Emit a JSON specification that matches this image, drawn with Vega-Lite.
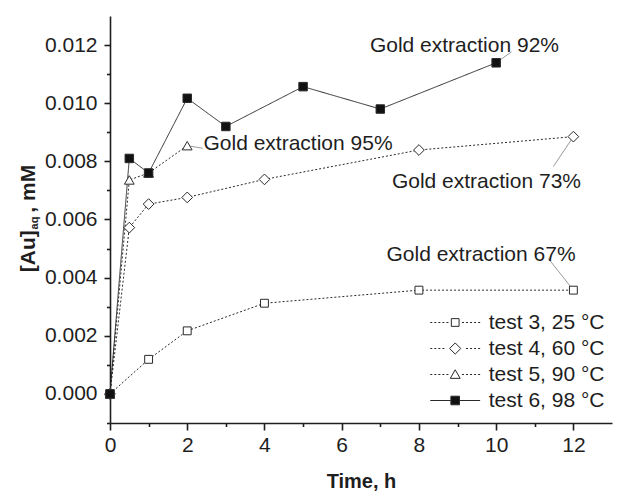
{
  "$schema": "https://vega.github.io/schema/vega-lite/v6.json",
  "width": 502,
  "height": 407,
  "autosize": {"type": "none"},
  "padding": {"left": 110, "top": 16, "right": 5, "bottom": 68},
  "background": "white",
  "config": {
    "view": {"stroke": null},
    "font": "Liberation Sans",
    "axis": {
      "grid": false,
      "domainColor": "#1e1e1e",
      "tickColor": "#1e1e1e",
      "labelColor": "#1e1e1e",
      "titleColor": "#1e1e1e",
      "labelFont": "Liberation Sans",
      "titleFont": "Liberation Sans",
      "labelFlush": false,
      "labelOverlap": false,
      "labelBound": false,
      "domainWidth": 1.6,
      "tickWidth": 1.6
    }
  },
  "datasets": {
    "runs": [
      {"series": "test 3, 25 °C", "time": 0, "au": 0},
      {"series": "test 3, 25 °C", "time": 1, "au": 0.00119},
      {"series": "test 3, 25 °C", "time": 2, "au": 0.00217},
      {"series": "test 3, 25 °C", "time": 4, "au": 0.00312},
      {"series": "test 3, 25 °C", "time": 8, "au": 0.00357},
      {"series": "test 3, 25 °C", "time": 12, "au": 0.00357},
      {"series": "test 4, 60 °C", "time": 0, "au": 0},
      {"series": "test 4, 60 °C", "time": 0.5, "au": 0.00572},
      {"series": "test 4, 60 °C", "time": 1, "au": 0.00653},
      {"series": "test 4, 60 °C", "time": 2, "au": 0.00676},
      {"series": "test 4, 60 °C", "time": 4, "au": 0.00738},
      {"series": "test 4, 60 °C", "time": 8, "au": 0.00839},
      {"series": "test 4, 60 °C", "time": 12, "au": 0.00885},
      {"series": "test 5, 90 °C", "time": 0, "au": 0},
      {"series": "test 5, 90 °C", "time": 0.5, "au": 0.00736},
      {"series": "test 5, 90 °C", "time": 1, "au": 0.0076},
      {"series": "test 5, 90 °C", "time": 2, "au": 0.00854},
      {"series": "test 6, 98 °C", "time": 0, "au": 0},
      {"series": "test 6, 98 °C", "time": 0.5, "au": 0.0081},
      {"series": "test 6, 98 °C", "time": 1, "au": 0.0076},
      {"series": "test 6, 98 °C", "time": 2, "au": 0.01017},
      {"series": "test 6, 98 °C", "time": 3, "au": 0.0092},
      {"series": "test 6, 98 °C", "time": 5, "au": 0.01057},
      {"series": "test 6, 98 °C", "time": 7, "au": 0.0098},
      {"series": "test 6, 98 °C", "time": 10, "au": 0.01139}
    ],
    "notes": [
      {"label": "Gold extraction 92%", "tx": 6.73, "ty": 0.01177, "px": 10, "py": 0.01139, "ex": 10.4, "ey": 0.01177},
      {"label": "Gold extraction 95%", "tx": 2.42, "ty": 0.00839, "px": 2, "py": 0.00854, "ex": 2.4, "ey": 0.00845},
      {"label": "Gold extraction 73%", "tx": 7.3, "ty": 0.00707, "px": 12, "py": 0.00885, "ex": 11.48, "ey": 0.00782},
      {"label": "Gold extraction 67%", "tx": 7.16, "ty": 0.00458, "px": 12, "py": 0.00357, "ex": 11.35, "ey": 0.00466}
    ]
  },
  "resolve": {
    "scale": {"x": "independent", "y": "independent"},
    "axis": {"x": "independent", "y": "independent"}
  },
  "layer": [
    {
      "data": {"name": "notes"},
      "layer": [
        {
          "mark": {"type": "rule", "stroke": "#9a9a9a", "strokeWidth": 1},
          "encoding": {
            "x": {
              "field": "px", "type": "quantitative",
              "scale": {"domain": [0, 13], "nice": false, "zero": false},
              "axis": {"orient": "bottom", "values": [1, 3, 5, 7, 9, 11], "tickSize": 3.5, "labels": false, "domain": false, "title": null}
            },
            "y": {
              "field": "py", "type": "quantitative",
              "scale": {"domain": [-0.001, 0.013], "nice": false, "zero": false},
              "axis": {"orient": "left", "values": [-0.001, 0.001, 0.003, 0.005, 0.007, 0.009, 0.011], "tickSize": 3.5, "labels": false, "domain": false,
                       "title": "aq", "titleFontSize": 11, "titleFontWeight": "bold", "titleAngle": 270, "titleAlign": "center", "titleBaseline": "alphabetic", "titleX": -73, "titleY": 206.5}
            },
            "x2": {"field": "ex"},
            "y2": {"field": "ey"}
          }
        },
        {
          "mark": {"type": "text", "align": "left", "baseline": "alphabetic", "fontSize": 21, "font": "Liberation Sans", "fill": "#1e1e1e"},
          "encoding": {
            "x": {
              "field": "tx", "type": "quantitative",
              "scale": {"domain": [0, 13], "nice": false, "zero": false},
              "axis": {"orient": "bottom", "values": [1, 3, 5, 7, 9, 11], "tickSize": 3.5, "labels": false, "domain": false, "title": null}
            },
            "y": {
              "field": "ty", "type": "quantitative",
              "scale": {"domain": [-0.001, 0.013], "nice": false, "zero": false},
              "axis": {"orient": "left", "values": [-0.001, 0.001, 0.003, 0.005, 0.007, 0.009, 0.011], "tickSize": 3.5, "labels": false, "domain": false,
                       "title": "aq", "titleFontSize": 11, "titleFontWeight": "bold", "titleAngle": 270, "titleAlign": "center", "titleBaseline": "alphabetic", "titleX": -73, "titleY": 206.5}
            },
            "text": {"field": "label"}
          }
        }
      ]
    },
    {
      "data": {"name": "runs"},
      "resolve": {"scale": {"shape": "independent", "fill": "independent"}},
      "encoding": {
        "x": {
          "field": "time", "type": "quantitative",
          "scale": {"domain": [0, 13], "nice": false, "zero": false},
          "axis": {"orient": "bottom", "values": [0, 2, 4, 6, 8, 10, 12], "format": "d", "tickSize": 7, "labelPadding": 4, "labelFontSize": 21,
                   "title": "Time, h", "titleFontSize": 20, "titleFontWeight": "bold", "titleX": 251, "titleY": 64, "titleAlign": "center", "titleBaseline": "alphabetic"}
        },
        "y": {
          "field": "au", "type": "quantitative",
          "scale": {"domain": [-0.001, 0.013], "nice": false, "zero": false},
          "axis": {"orient": "left", "values": [0, 0.002, 0.004, 0.006, 0.008, 0.01, 0.012], "format": ".3f", "tickSize": 6, "labelPadding": 7, "labelFontSize": 21,
                   "title": "[Au]\u00a0\u00a0\u00a0, mM", "titleFontSize": 21, "titleFontWeight": "bold", "titleAngle": 270, "titleAlign": "center", "titleBaseline": "alphabetic", "titleX": -76, "titleY": 202}
        }
      },
      "layer": [
        {
          "mark": {"type": "point", "filled": true, "stroke": "#2a2a2a", "strokeWidth": 1, "opacity": 0},
          "encoding": {
            "shape": {
              "field": "series", "type": "nominal",
              "scale": {
                "domain": ["test 3, 25 °C", "test 4, 60 °C", "test 5, 90 °C", "test 6, 98 °C"],
                "range": [
                  "M-5.8,0H-5.33M-4.86,0H-4.39M-3.92,0H-3.45M-2.98,0H-2.51M-2.04,0H-1.57M1.57,0H2.04M2.51,0H2.98M3.45,0H3.92M4.39,0H4.86M5.33,0H5.8M-0.9,-0.9H0.9V0.9H-0.9Z",
                  "M-5.8,0H-5.33M-4.86,0H-4.39M-3.92,0H-3.45M-2.98,0H-2.51M2.51,0H2.98M3.45,0H3.92M4.39,0H4.86M5.33,0H5.8M-1.3,0L0,-1.3L1.3,0L0,1.3Z",
                  "M-5.8,0H-5.33M-4.86,0H-4.39M-3.92,0H-3.45M-2.98,0H-2.51M-2.04,0H-1.57M1.57,0H2.04M2.51,0H2.98M3.45,0H3.92M4.39,0H4.86M5.33,0H5.8M0,-1.1L1.15,0.9H-1.15Z",
                  "M-5.8,0H-1M1,0H5.8M-1,-1H1V1H-1Z"
                ]
              },
              "legend": {
                "title": null, "orient": "none", "legendX": 334.7, "legendY": 296, "padding": 0,
                "symbolSize": 74, "symbolOpacity": 1, "symbolStrokeWidth": 1,
                "labelFontSize": 21, "labelFont": "Liberation Sans", "labelColor": "#1e1e1e",
                "labelOffset": 23, "rowPadding": 4, "labelBaseline": "middle"
              }
            },
            "fill": {
              "field": "series", "type": "nominal",
              "scale": {"domain": ["test 3, 25 °C", "test 4, 60 °C", "test 5, 90 °C", "test 6, 98 °C"], "range": ["white", "white", "white", "#111111"]}
            }
          }
        },
        {
          "mark": {"type": "line", "stroke": "#2a2a2a", "strokeWidth": 1},
          "encoding": {
            "strokeDash": {
              "field": "series", "type": "nominal",
              "scale": {"domain": ["test 6, 98 °C", "test 5, 90 °C", "test 4, 60 °C", "test 3, 25 °C"], "range": [[1, 0], [2, 2], [2, 2], [2, 2]]},
              "legend": null
            }
          }
        },
        {
          "mark": {"type": "point", "filled": true, "stroke": "#2a2a2a", "strokeWidth": 1, "opacity": 1},
          "encoding": {
            "shape": {
              "field": "series", "type": "nominal",
              "scale": {"domain": ["test 6, 98 °C", "test 3, 25 °C", "test 4, 60 °C", "test 5, 90 °C"], "range": ["square", "square", "diamond", "triangle-up"]},
              "legend": null
            },
            "fill": {
              "field": "series", "type": "nominal",
              "scale": {"domain": ["test 6, 98 °C", "test 3, 25 °C", "test 4, 60 °C", "test 5, 90 °C"], "range": ["#111111", "white", "white", "white"]},
              "legend": null
            },
            "size": {
              "field": "series", "type": "nominal",
              "scale": {"type": "ordinal", "domain": ["test 5, 90 °C", "test 6, 98 °C", "test 3, 25 °C", "test 4, 60 °C"], "range": [95, 72, 62, 115]},
              "legend": null
            }
          }
        }
      ]
    }
  ]
}
